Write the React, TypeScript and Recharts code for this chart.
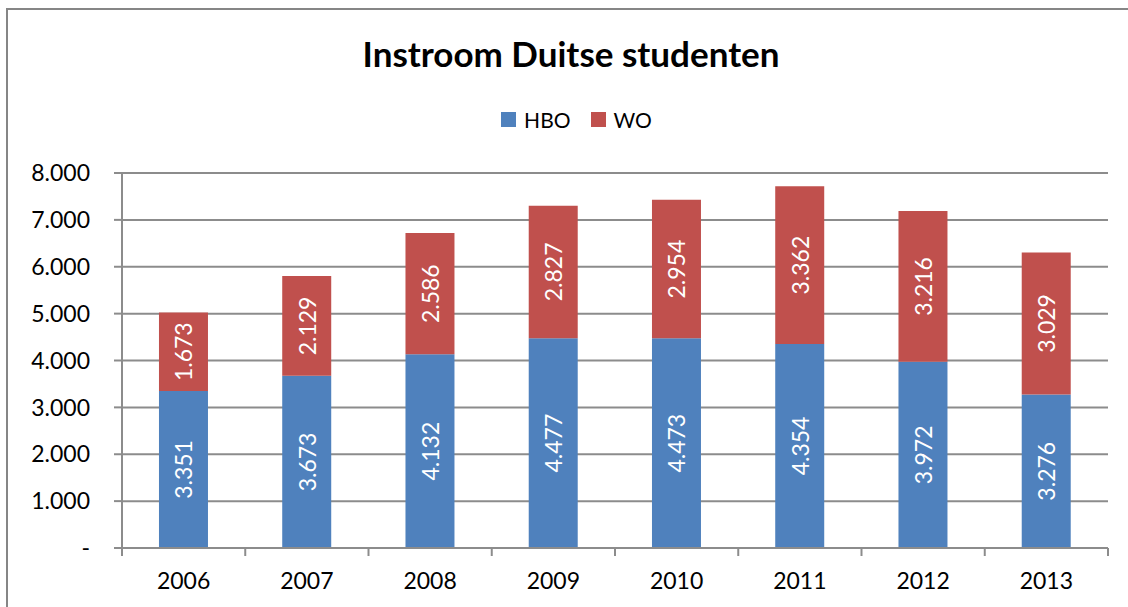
import React from 'react';
import { BarChart, Bar, XAxis, YAxis, CartesianGrid, LabelList } from 'recharts';

const years = ['2006', '2007', '2008', '2009', '2010', '2011', '2012', '2013'];
const hbo = [3351, 3673, 4132, 4477, 4473, 4354, 3972, 3276];
const wo = [1673, 2129, 2586, 2827, 2954, 3362, 3216, 3029];
const yTicks = [0, 1000, 2000, 3000, 4000, 5000, 6000, 7000, 8000];
const seriesNames = ['HBO', 'WO'];
const seriesColors = ['#4F81BD', '#C0504D'];

const data = years.map((y, i) => ({ year: y, HBO: hbo[i], WO: wo[i] }));

const FONT = 'Lato, "Open Sans", sans-serif';
const GRID = '#8c8c8c';
const W = 1128;
const H = 607;
const M = { top: 173, right: 20, left: 12, bottom: 0 };
const Y_W = 110;
const X_H = 59;
const plotW = W - M.left - M.right - Y_W;
const band = plotW / years.length;

const fmt = (v: number) => (v === 0 ? '-' : v.toLocaleString('de-DE'));

const XTick = (props: any) => {
  const { x, y, payload, index } = props;
  const half = band / 2;
  return (
    <g>
      <line x1={x - half} x2={x - half} y1={y - 8} y2={y} stroke={GRID} strokeWidth={2} />
      {index === years.length - 1 && (
        <line x1={x + half} x2={x + half} y1={y - 8} y2={y} stroke={GRID} strokeWidth={2} />
      )}
      <text x={x} y={y + 33} textAnchor="middle" fontSize={23} fontFamily={FONT} fill="#000">
        {payload.value}
      </text>
    </g>
  );
};

const VLabel = (props: any) => {
  const { x, y, width, height, value } = props;
  const cx = x + width / 2;
  const cy = y + height / 2;
  return (
    <text
      x={cx}
      y={cy}
      transform={`rotate(-90 ${cx} ${cy})`}
      textAnchor="middle"
      dominantBaseline="central"
      fontSize={23}
      fontFamily={FONT}
      fill="#fff"
    >
      {fmt(value)}
    </text>
  );
};

export default function App() {
  return (
    <div style={{ position: 'absolute', left: 0, top: 0, width: W, height: H, overflow: 'hidden', background: '#fff' }}>
      <div
        style={{
          position: 'absolute',
          left: 6,
          top: 8,
          width: W + 50,
          height: H + 50,
          borderLeft: '2px solid #868686',
          borderTop: '2px solid #868686',
        }}
      />
      <div
        style={{
          position: 'absolute',
          left: 0,
          top: 31,
          width: W,
          textAlign: 'center',
          fontFamily: FONT,
          fontWeight: 'bold',
          fontSize: 35,
          lineHeight: '44px',
          color: '#000',
          paddingLeft: 14,
          boxSizing: 'border-box',
        }}
      >
        Instroom Duitse studenten
      </div>
      <div
        style={{
          position: 'absolute',
          left: 0,
          top: 105,
          width: W,
          height: 28,
          display: 'flex',
          justifyContent: 'center',
          alignItems: 'center',
          fontFamily: FONT,
          fontSize: 21,
          color: '#000',
          paddingLeft: 25,
          boxSizing: 'border-box',
        }}
      >
        {seriesNames.map((n, i) => (
          <div key={n} style={{ display: 'flex', alignItems: 'center', marginLeft: i ? 20 : 0 }}>
            <span style={{ width: 15, height: 15, background: seriesColors[i], display: 'inline-block', marginRight: 8 }} />
            <span>{n}</span>
          </div>
        ))}
      </div>
      <div style={{ position: 'absolute', left: 0, top: 0 }}>
        <BarChart width={W} height={H} data={data} margin={M} barCategoryGap="30%">
          <CartesianGrid vertical={false} stroke={GRID} strokeWidth={2} />
          <XAxis
            dataKey="year"
            height={X_H}
            axisLine={{ stroke: GRID, strokeWidth: 2 }}
            tickLine={false}
            tick={<XTick />}
            interval={0}
          />
          <YAxis
            width={Y_W}
            domain={[0, 8000]}
            ticks={yTicks}
            tickFormatter={fmt}
            axisLine={{ stroke: GRID, strokeWidth: 2 }}
            tickLine={{ stroke: GRID, strokeWidth: 2 }}
            tickSize={8}
            tickMargin={24}
            tick={{ fontSize: 23, fontFamily: FONT, fill: '#000' }}
            interval={0}
          />
          <Bar dataKey="HBO" stackId="a" fill={seriesColors[0]} isAnimationActive={false}>
            <LabelList dataKey="HBO" content={<VLabel />} />
          </Bar>
          <Bar dataKey="WO" stackId="a" fill={seriesColors[1]} isAnimationActive={false}>
            <LabelList dataKey="WO" content={<VLabel />} />
          </Bar>
        </BarChart>
      </div>
    </div>
  );
}
